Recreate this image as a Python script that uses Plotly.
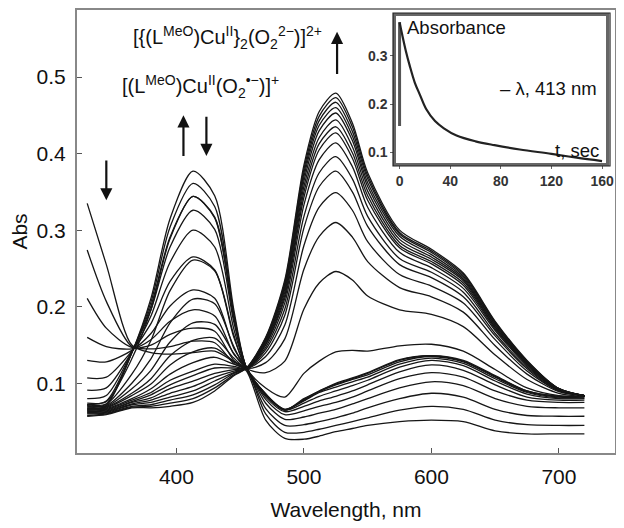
import plotly.graph_objects as go

# wavelength grid (nm) the spectra were read at
wavelengths = [330, 345, 365, 380, 395, 413, 430, 445, 455, 470, 485, 500, 512,
               525, 538, 550, 575, 600, 625, 650, 675, 700, 720]

# first step: Cu(I) -> superoxo, 413 nm band grows
superoxo_growth = [
    [.335, .255, .150, .140, .138, .140, .142, .128, .116, .052, .028, .027, .031, .037, .041, .045, .050, .052, .050, .038, .034, .034, .034],
    [.274, .207, .148, .145, .148, .155, .153, .126, .118, .060, .036, .036, .040, .045, .050, .055, .065, .070, .066, .052, .046, .045, .045],
    [.211, .172, .147, .150, .164, .172, .168, .130, .119, .067, .045, .046, .050, .055, .061, .068, .080, .087, .082, .066, .058, .057, .057],
    [.160, .148, .145, .157, .181, .196, .188, .138, .120, .074, .053, .056, .061, .066, .073, .080, .094, .102, .097, .080, .070, .068, .068],
    [.130, .128, .143, .165, .201, .222, .211, .146, .120, .079, .059, .064, .070, .075, .082, .090, .106, .114, .108, .090, .078, .075, .075],
    [.107, .108, .142, .178, .233, .265, .248, .160, .120, .082, .063, .070, .077, .083, .090, .098, .115, .124, .117, .098, .082, .078, .078],
    [.091, .094, .141, .188, .258, .300, .278, .171, .120, .084, .065, .074, .083, .090, .097, .104, .121, .130, .123, .103, .086, .080, .080],
    [.080, .084, .141, .196, .278, .326, .301, .180, .120, .085, .066, .077, .088, .095, .102, .108, .125, .133, .126, .106, .088, .081, .081],
    [.072, .077, .140, .201, .291, .344, .316, .185, .120, .086, .066, .078, .089, .098, .105, .111, .128, .135, .128, .108, .089, .082, .082],
    [.068, .073, .140, .206, .304, .361, .331, .191, .120, .086, .065, .079, .090, .099, .106, .113, .130, .136, .129, .109, .090, .083, .083],
    [.065, .071, .140, .211, .315, .377, .345, .196, .120, .086, .065, .080, .090, .100, .107, .114, .131, .136, .130, .110, .090, .083, .083],
]

# second step: superoxo -> peroxo, 525 nm band grows
peroxo_growth = [
    [.074, .076, .132, .196, .289, .344, .317, .187, .120, .094, .082, .113, .129, .141, .143, .142, .149, .151, .142, .118, .094, .084, .083],
    [.072, .073, .112, .156, .221, .261, .247, .163, .120, .114, .129, .197, .231, .246, .235, .214, .196, .190, .174, .137, .105, .087, .083],
    [.071, .071, .100, .132, .179, .210, .204, .148, .120, .127, .158, .249, .292, .310, .291, .259, .225, .213, .193, .149, .112, .089, .084],
    [.070, .070, .093, .117, .154, .179, .177, .139, .120, .135, .176, .280, .330, .349, .326, .285, .242, .227, .205, .157, .116, .090, .084],
    [.068, .069, .087, .106, .136, .156, .159, .133, .120, .140, .189, .303, .357, .377, .350, .305, .255, .238, .213, .162, .119, .090, .084],
    [.067, .068, .084, .099, .124, .141, .146, .129, .120, .144, .197, .318, .375, .396, .367, .318, .263, .245, .219, .165, .121, .091, .084],
    [.066, .067, .080, .093, .112, .127, .134, .125, .120, .147, .205, .333, .392, .414, .383, .330, .271, .251, .224, .169, .123, .091, .084],
    [.065, .066, .078, .088, .104, .116, .125, .122, .120, .150, .211, .343, .405, .427, .394, .339, .277, .256, .228, .171, .125, .092, .084],
    [.064, .065, .076, .085, .098, .110, .120, .120, .120, .151, .215, .350, .413, .435, .401, .345, .280, .259, .231, .173, .125, .092, .084],
    [.063, .064, .075, .081, .093, .103, .113, .118, .120, .153, .219, .357, .421, .444, .409, .351, .284, .262, .234, .174, .126, .092, .084],
    [.062, .063, .073, .078, .087, .096, .108, .116, .120, .155, .223, .364, .430, .453, .417, .357, .288, .265, .236, .176, .127, .092, .084],
    [.061, .062, .072, .075, .082, .090, .103, .114, .120, .156, .226, .370, .437, .460, .423, .362, .292, .268, .238, .177, .128, .093, .084],
    [.060, .061, .070, .072, .078, .085, .098, .113, .120, .158, .229, .375, .443, .467, .429, .367, .295, .271, .240, .179, .129, .093, .084],
    [.058, .060, .069, .070, .074, .080, .094, .111, .120, .159, .232, .380, .449, .473, .435, .371, .297, .273, .242, .180, .129, .093, .084],
    [.057, .059, .068, .068, .070, .075, .090, .110, .120, .160, .235, .385, .455, .479, .440, .375, .300, .275, .244, .181, .130, .093, .084],
]

# inset: absorbance at 413 nm vs time
inset_time = [0, 2, 5, 8, 12, 16, 21, 28, 35, 45, 60, 75, 95, 120, 140, 160]
inset_abs = [0.37, 0.345, 0.31, 0.28, 0.245, 0.22, 0.19, 0.165, 0.15, 0.135, 0.123, 0.115, 0.106, 0.097, 0.089, 0.082]
jump_time = [0, 0]
jump_abs = [0.155, 0.37]

x_ticks = [400, 500, 600, 700]
y_ticks = [0.1, 0.2, 0.3, 0.4, 0.5]
inset_x_ticks = [0, 40, 80, 120, 160]
inset_y_ticks = [0.1, 0.2, 0.3]

ink = "#161616"
font = "Liberation Sans, Arial, sans-serif"

fig = go.Figure()
for row in superoxo_growth + peroxo_growth:
    fig.add_trace(go.Scatter(x=wavelengths, y=row, mode="lines",
                             line=dict(color=ink, width=1.3, shape="spline", smoothing=0.8),
                             hoverinfo="skip", showlegend=False))

fig.add_trace(go.Scatter(x=jump_time, y=jump_abs, mode="lines", xaxis="x2", yaxis="y2",
                         line=dict(color="#555", width=3), hoverinfo="skip", showlegend=False))
fig.add_trace(go.Scatter(x=inset_time, y=inset_abs, mode="lines", xaxis="x2", yaxis="y2",
                         line=dict(color="#222", width=2.2, shape="spline"),
                         hoverinfo="skip", showlegend=False))

# the page body adds an 8 px margin, so the figure is 8 px smaller and shifted back
fig.update_layout(
    width=616, height=520,
    margin=dict(l=69, r=9, t=2, b=75),
    paper_bgcolor="white", plot_bgcolor="white",
    font=dict(family=font, color="#111"),
    xaxis=dict(range=[322, 744], tickvals=x_ticks, ticks="inside", ticklen=5,
               tickcolor="#555", showline=True, mirror=True, linecolor="#888", linewidth=2,
               showgrid=False, zeroline=False, tickfont=dict(size=21), ticklabelstandoff=4,
               automargin=False,
               title=dict(text="Wavelength, nm", font=dict(size=21), standoff=15)),
    yaxis=dict(range=[0.009, 0.5875], tickvals=y_ticks, ticktext=["0.1", "0.2", "0.3", "0.4", "0.5"],
               ticks="inside", ticklen=5, tickcolor="#555", showline=True, mirror=True,
               linecolor="#888", linewidth=2, showgrid=False, zeroline=False,
               tickfont=dict(size=21), ticklabelstandoff=5, automargin=False,
               title=dict(text="Abs", font=dict(size=21), standoff=8)),
    xaxis2=dict(domain=[0.593, 0.983], anchor="y2", range=[-2.8, 163], tickvals=inset_x_ticks,
                ticks="outside", ticklen=3, tickcolor="#666", showline=True, mirror=True,
                linecolor="#666", linewidth=2.5, showgrid=False, zeroline=False,
                tickfont=dict(size=14, weight="bold", color="#333")),
    yaxis2=dict(domain=[0.6546, 0.9865], anchor="x2", range=[0.078, 0.383], tickvals=inset_y_ticks,
                ticktext=["0.1", "0.2", "0.3"], ticks="outside", ticklen=3, tickcolor="#666",
                showline=True, mirror=True, linecolor="#666", linewidth=2.5, showgrid=False,
                zeroline=False, tickfont=dict(size=14, weight="bold", color="#333")),
    shapes=[dict(type="rect", xref="paper", yref="paper", x0=0.5874, x1=0.9907, y0=0.6479, y1=0.9932,
                 line=dict(color="#222", width=1.2))],
)

labels = [
    dict(x=440, y=0.551, text="[{(L<sup>MeO</sup>)Cu<sup>II</sup>}<sub>2</sub>(O<sub>2</sub><sup>2\u2212</sup>)]<sup>2+</sup>"),
    dict(x=419, y=0.488, text="[(L<sup>MeO</sup>)Cu<sup>II</sup>(O<sub>2</sub><sup>\u2022\u2212</sup>)]<sup>+</sup>"),
]
for lab in labels:
    fig.add_annotation(x=lab["x"], y=lab["y"], text=lab["text"], showarrow=False,
                       font=dict(size=20, color="#111"))

arrows = [(345, 0.393, 0.339), (405.5, 0.395, 0.450), (423.5, 0.450, 0.397), (526, 0.502, 0.559)]
for ax_nm, tail, head in arrows:
    fig.add_annotation(x=ax_nm, y=head, ax=ax_nm, ay=tail, axref="x", ayref="y", text="",
                       showarrow=True, arrowhead=2, arrowsize=1.1, arrowwidth=2.2, arrowcolor="#111")

fig.add_annotation(x=4.3, y=0.359, xref="x2", yref="y2", text="Absorbance", xanchor="left",
                   showarrow=False, font=dict(size=18.5, color="#111"))
fig.add_annotation(x=78, y=0.232, xref="x2", yref="y2", text="\u2013 \u03bb, 413 nm", xanchor="left",
                   showarrow=False, font=dict(size=18.5, color="#111"))
fig.add_annotation(x=159, y=0.105, xref="x2", yref="y2", text="t, sec", xanchor="right",
                   showarrow=False, font=dict(size=18.5, color="#111"))

fig.write_html("out.html")
